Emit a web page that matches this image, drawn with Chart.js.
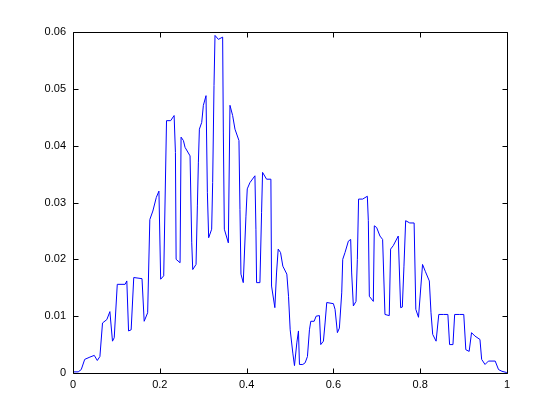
<!DOCTYPE html>
<html>
<head>
<meta charset="utf-8">
<script src="https://cdn.jsdelivr.net/npm/chart.js@4"></script>
<style>
html,body{margin:0;padding:0;background:#fff;}
canvas{display:block;}
</style>
</head>
<body>
<canvas id="c" width="560" height="420"></canvas>
<script>
const xValues = [0,0.012,0.019,0.027,0.039,0.049,0.056,0.062,0.068,0.078,0.085,0.091,0.095,0.102,0.120,0.124,0.128,0.134,0.140,0.159,0.164,0.172,0.177,0.184,0.192,0.198,0.202,0.209,0.2155,0.225,0.233,0.236,0.2376,0.2467,0.249,0.2544,0.2582,0.2697,0.2736,0.2759,0.2835,0.2866,0.2889,0.2912,0.2966,0.3004,0.3065,0.3096,0.3126,0.3195,0.3218,0.3249,0.3272,0.3349,0.3448,0.3464,0.3487,0.3579,0.3617,0.3678,0.3732,0.3824,0.3847,0.387,0.3923,0.3985,0.4015,0.4077,0.4192,0.4215,0.423,0.4307,0.4345,0.4368,0.446,0.456,0.4575,0.4651,0.469,0.4728,0.4782,0.4835,0.4927,0.4966,0.5004,0.5065,0.5103,0.5157,0.5195,0.5218,0.5295,0.5349,0.5402,0.5448,0.5479,0.5556,0.5602,0.5678,0.5709,0.577,0.5808,0.5847,0.600,0.6038,0.6092,0.6138,0.6192,0.6215,0.6268,0.6345,0.6398,0.6421,0.646,0.6521,0.6552,0.658,0.6674,0.6782,0.6805,0.6828,0.692,0.6943,0.6996,0.7073,0.7134,0.7188,0.7287,0.7318,0.7379,0.7494,0.7549,0.7588,0.7626,0.7665,0.7759,0.786,0.7899,0.7961,0.8016,0.8054,0.8117,0.821,0.8249,0.8288,0.8366,0.8428,0.8537,0.8638,0.8677,0.8755,0.8794,0.891,0.9004,0.9051,0.9128,0.9183,0.9261,0.9377,0.9416,0.9494,0.9572,0.9728,0.9805,0.9883,0.9984,1.0];
const yValues = [0.0002,0.0002,0.0006,0.0024,0.0028,0.0031,0.0022,0.0029,0.0088,0.0094,0.0108,0.0056,0.0062,0.0156,0.0156,0.0162,0.0074,0.0076,0.0168,0.0166,0.0091,0.0106,0.0270,0.0285,0.0309,0.0320,0.0165,0.0171,0.0444,0.0444,0.0453,0.0388,0.0200,0.0194,0.0415,0.0409,0.0397,0.0382,0.0229,0.0182,0.0191,0.0294,0.0371,0.0429,0.0441,0.0471,0.0488,0.0318,0.0238,0.0253,0.0335,0.0506,0.0594,0.0587,0.0591,0.0424,0.0253,0.0229,0.0471,0.0453,0.0429,0.0409,0.0288,0.0174,0.0159,0.0276,0.0324,0.0335,0.0347,0.0253,0.0159,0.0159,0.0282,0.0353,0.0341,0.0341,0.0153,0.0115,0.0176,0.0218,0.0212,0.0188,0.0174,0.0135,0.0076,0.0035,0.0013,0.0053,0.0074,0.0015,0.0015,0.0018,0.0029,0.0076,0.0091,0.0091,0.0100,0.0101,0.0050,0.0056,0.0088,0.0124,0.0122,0.0112,0.0071,0.0079,0.0141,0.0200,0.0212,0.0232,0.0235,0.0176,0.0118,0.0126,0.0200,0.0306,0.0306,0.0311,0.0268,0.0135,0.0126,0.0259,0.0256,0.0241,0.0235,0.0103,0.0101,0.0218,0.0224,0.0241,0.0115,0.0116,0.0188,0.0268,0.0264,0.0264,0.0112,0.0098,0.0153,0.0191,0.0179,0.0162,0.0106,0.0068,0.0056,0.0103,0.0103,0.0103,0.0050,0.0050,0.0103,0.0103,0.0103,0.0041,0.0038,0.0071,0.0065,0.0059,0.0024,0.0015,0.0021,0.0021,0.0006,0.0003,0.0001,0.0001];
const xTickLabels = ['0','0.2','0.4','0.6','0.8','1'];
const yTickLabels = ['0','0.01','0.02','0.03','0.04','0.05','0.06'];

const points = xValues.map((x, i) => ({x: x, y: yValues[i]}));

const boxPlugin = {
  id: 'matlabBox',
  afterDraw(chart) {
    const ctx = chart.ctx;
    const a = chart.chartArea;
    const xs = chart.scales.x, ys = chart.scales.y;
    ctx.save();
    ctx.strokeStyle = '#000';
    ctx.lineWidth = 1;
    ctx.beginPath();
    const L = Math.round(a.left) + 0.5, R = Math.round(a.right) + 0.5;
    const T = Math.round(a.top) + 0.5, B = Math.round(a.bottom) + 0.5;
    ctx.rect(L, T, R - L, B - T);
    const tl = 5;
    xs.ticks.forEach(t => {
      const px = Math.round(xs.getPixelForValue(t.value)) + 0.5;
      ctx.moveTo(px, B); ctx.lineTo(px, B - tl);
      ctx.moveTo(px, T); ctx.lineTo(px, T + tl);
    });
    ys.ticks.forEach(t => {
      const py = Math.round(ys.getPixelForValue(t.value)) + 0.5;
      ctx.moveTo(L, py); ctx.lineTo(L + tl, py);
      ctx.moveTo(R, py); ctx.lineTo(R - tl, py);
    });
    ctx.stroke();
    ctx.restore();
  }
};

new Chart(document.getElementById('c'), {
  type: 'line',
  data: {
    datasets: [{
      data: points,
      borderColor: '#0000ff',
      borderWidth: 1,
      pointRadius: 0,
      tension: 0,
      fill: false
    }]
  },
  options: {
    responsive: false,
    animation: false,
    devicePixelRatio: 1,
    layout: { padding: { top: 32, right: 53, left: 0, bottom: 0 } },
    plugins: { legend: { display: false }, tooltip: { enabled: false } },
    scales: {
      x: {
        type: 'linear',
        min: 0, max: 1,
        afterFit: s => { s.height = 47; },
        grid: { display: false, drawTicks: false },
        border: { display: false },
        ticks: {
          stepSize: 0.2,
          padding: 5,
          color: '#000',
          maxRotation: 0,
          font: { family: 'Liberation Sans, Arial, sans-serif', size: 11 },
          callback: v => xTickLabels[Math.round(v / 0.2)]
        }
      },
      y: {
        type: 'linear',
        min: 0, max: 0.06,
        afterFit: s => { s.width = 73; },
        grid: { display: false, drawTicks: false },
        border: { display: false },
        ticks: {
          stepSize: 0.01,
          padding: 7,
          color: '#000',
          font: { family: 'Liberation Sans, Arial, sans-serif', size: 11 },
          callback: v => yTickLabels[Math.round(v / 0.01)]
        }
      }
    }
  },
  plugins: [boxPlugin]
});
</script>
</body>
</html>
